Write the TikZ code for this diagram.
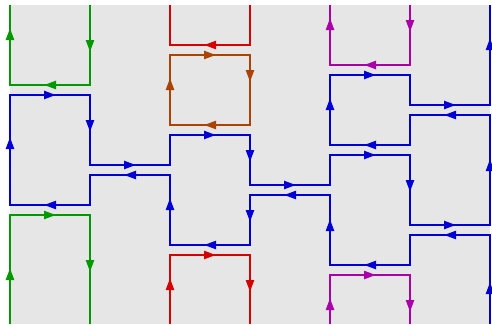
\documentclass[tikz,border=0pt]{standalone}
\usepackage{xcolor}
\usepackage{tikz}
\usetikzlibrary{
  arrows.meta
}
\definecolor{LoopGray}{HTML}{E6E6E6}
\definecolor{LoopGreen}{HTML}{009900}
\definecolor{LoopBlue}{HTML}{0000D6}
\definecolor{LoopRed}{HTML}{D60000}
\definecolor{LoopBrown}{HTML}{AA4400}
\definecolor{LoopPurple}{HTML}{AA00AA}

\begin{document}
\begin{tikzpicture}[
x=1pt, y=-1pt,
line width=2.2pt,
loop/.style={line join=miter, line cap=butt},
tip/.style={-{Triangle[length=12pt,width=8pt]}}
]

% Frame and background
\useasboundingbox (0,0) rectangle (492,324);
\fill[LoopGray] (10,5) rectangle (490,324);

% Green loops
\draw[loop, LoopGreen] (90,5) -- (90,85) -- (10,85) -- (10,5);
\draw[loop, LoopGreen] (10,324) -- (10,215) -- (90,215) -- (90,324);

% Red loops
\draw[loop, LoopRed] (250,5) -- (250,45) -- (170,45) -- (170,5);
\draw[loop, LoopRed] (170,324) -- (170,255) -- (250,255) -- (250,324);

% Brown closed loop
\draw[loop, LoopBrown] (170,125) -- (170,55) -- (250,55) -- (250,125) -- cycle;

% Purple loops
\draw[loop, LoopPurple] (410,5) -- (410,65) -- (330,65) -- (330,5);
\draw[loop, LoopPurple] (330,324) -- (330,275) -- (410,275) -- (410,324);

% Blue winding path
\draw[loop, LoopBlue] (490,324) -- (490,235) -- (410,235) -- (410,265) -- (330,265)
  -- (330,195) -- (250,195) -- (250,245) -- (170,245) -- (170,175) -- (90,175)
  -- (90,205) -- (10,205) -- (10,95) -- (90,95) -- (90,165) -- (170,165)
  -- (170,135) -- (250,135) -- (250,185) -- (330,185) -- (330,155) -- (410,155)
  -- (410,225) -- (490,225) -- (490,115) -- (410,115) -- (410,145) -- (330,145)
  -- (330,75) -- (410,75) -- (410,105) -- (490,105) -- (490,5);

% Arrow heads: x/y/dx/dy
\foreach \x/\y/\dx/\dy in {490/288/0/-1, 450/235/-1/0, 370/265/-1/0, 330/225/0/-1,
  290/195/-1/0, 250/216/0/1, 210/245/-1/0, 170/204/0/-1, 130/175/-1/0,
  50/205/-1/0, 10/143/0/-1, 50/95/1/0, 90/126/0/1, 130/165/1/0, 210/135/1/0,
  250/156/0/1, 290/185/1/0, 370/155/1/0, 410/186/0/1, 450/225/1/0,
  490/165/0/-1, 450/115/-1/0, 370/145/-1/0, 330/104/0/-1, 370/75/1/0,
  450/105/1/0, 490/44/0/-1}
  \draw[tip, LoopBlue] ({\x-6*\dx},{\y-6*\dy}) -- ({\x+6*\dx},{\y+6*\dy});

\foreach \x/\y/\dx/\dy in {90/46/0/1, 50/85/-1/0, 10/34/0/-1,
  10/274/0/-1, 50/215/1/0, 90/266/0/1}
  \draw[tip, LoopGreen] ({\x-6*\dx},{\y-6*\dy}) -- ({\x+6*\dx},{\y+6*\dy});

\foreach \x/\y/\dx/\dy in {210/45/-1/0, 170/284/0/-1, 210/255/1/0, 250/286/0/1}
  \draw[tip, LoopRed] ({\x-6*\dx},{\y-6*\dy}) -- ({\x+6*\dx},{\y+6*\dy});

\foreach \x/\y/\dx/\dy in {210/55/1/0, 250/76/0/1, 210/125/-1/0, 170/84/0/-1}
  \draw[tip, LoopBrown] ({\x-6*\dx},{\y-6*\dy}) -- ({\x+6*\dx},{\y+6*\dy});

\foreach \x/\y/\dx/\dy in {410/26/0/1, 370/65/-1/0, 330/24/0/-1,
  330/304/0/-1, 370/275/1/0, 410/306/0/1}
  \draw[tip, LoopPurple] ({\x-6*\dx},{\y-6*\dy}) -- ({\x+6*\dx},{\y+6*\dy});

\end{tikzpicture}
\end{document}
